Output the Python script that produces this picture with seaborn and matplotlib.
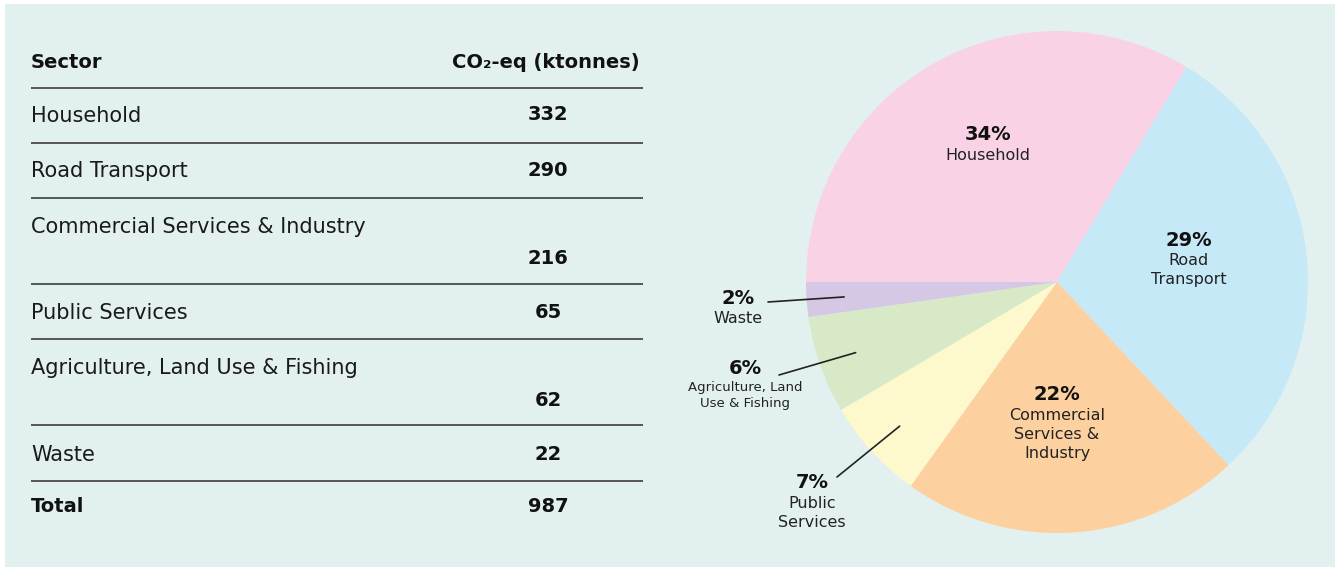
import matplotlib.pyplot as plt
import seaborn as sns
import numpy as np
import pandas as pd
from matplotlib.patches import Rectangle

# --- data ---
sectors = ['Household', 'Road Transport', 'Commercial Services & Industry',
           'Public Services', 'Agriculture, Land Use & Fishing', 'Waste']
emissions = [332, 290, 216, 65, 62, 22]
header = ['Sector', 'CO\u2082-eq (ktonnes)']
total_label = 'Total'
pie_names = ['Household', 'Road\nTransport', 'Commercial\nServices &\nIndustry',
             'Public\nServices', 'Agriculture, Land\nUse & Fishing', 'Waste']
colors = ['#f9d3e5', '#c6e9f8', '#fdd09f', '#fef9cc', '#d8e9c8', '#d4c8e4']

df = pd.DataFrame({'sector': sectors, 'ktonnes': emissions})
df['pct'] = df['ktonnes'] / df['ktonnes'].sum() * 100

sns.set_theme(style="white")
plt.rcParams['font.family'] = ['DejaVu Sans']

W, H = 1338, 571
fig = plt.figure(figsize=(W / 100, H / 100), dpi=100, facecolor='white')
fig.add_artist(Rectangle((5 / W, 4 / H), 1330 / W, 563 / H, transform=fig.transFigure,
                         facecolor='#e2f1ef', edgecolor='none', zorder=-1))

# --- pie (center 1057,282 px, radius 251 px) ---
ax_p = fig.add_axes([806 / W, 38 / H, 502 / W, 502 / H])
wedges, _ = ax_p.pie(df['ktonnes'], colors=colors, startangle=180, counterclock=False,
                     wedgeprops=dict(linewidth=0))
ax_p.set_xlim(-1, 1)
ax_p.set_ylim(-1, 1)
ax_p.set_aspect('equal')
ax_p.axis('off')

# overlay in pixel coords for table + labels
ax = fig.add_axes([0, 0, 1, 1], facecolor='none')
ax.set_xlim(0, W)
ax.set_ylim(H, 0)
ax.axis('off')

# --- table ---
line_y = [88, 143, 198, 284, 339, 425, 481]
name_y = [116, 171, 227, 313, 368, 455]
val_y = [115, 170, 259, 312, 400, 454]
x_name, x_val = 31, 548

ax.text(x_name, 62, header[0], fontsize=14, fontweight='bold', va='center', color='#111')
ax.text(640, 62, header[1], fontsize=14, fontweight='bold', va='center', ha='right', color='#111')
ax.hlines(line_y, 31, 643, color='#555555', lw=1.4)
for name, v, ny, vy in zip(df['sector'], df['ktonnes'], name_y, val_y):
    ax.text(x_name, ny, name, fontsize=15, va='center', color='#1a1a1a')
    ax.text(x_val, vy, f"{v}", fontsize=14, fontweight='bold', va='center', ha='center', color='#111')
ax.text(x_name, 507, total_label, fontsize=14, fontweight='bold', va='center', color='#111')
ax.text(x_val, 507, f"{df['ktonnes'].sum()}", fontsize=14, fontweight='bold', va='center',
        ha='center', color='#111')

# --- pie labels (pct position in px, name below) ---
pct_pos = [(988, 135), (1189, 240), (1057, 395), (812, 483), (745, 368), (738, 298)]
name_size = [11.5, 11.5, 11.5, 11.5, 9.5, 11.5]
for p, nm, (px, py), fs in zip(df['pct'], pie_names, pct_pos, name_size):
    ax.text(px, py, f"{p:.0f}%", fontsize=14, fontweight='bold', ha='center', va='center', color='#111')
    ax.text(px, py + 13, nm, fontsize=fs, ha='center', va='top', color='#222', linespacing=1.35)

# leader lines for the small slices
leader_end = {3: (837, 477), 4: (779, 375), 5: (768, 302)}
for i, (ex, ey) in leader_end.items():
    w = wedges[i]
    mid = np.deg2rad((w.theta1 + w.theta2) / 2)
    ax.annotate('', xy=(0.85 * np.cos(mid), 0.85 * np.sin(mid)), xycoords=ax_p.transData,
                xytext=(ex, ey), textcoords='data',
                arrowprops=dict(arrowstyle='-', color='#222', lw=1.2, shrinkA=0, shrinkB=0))

fig.savefig('out.png', dpi=100)
